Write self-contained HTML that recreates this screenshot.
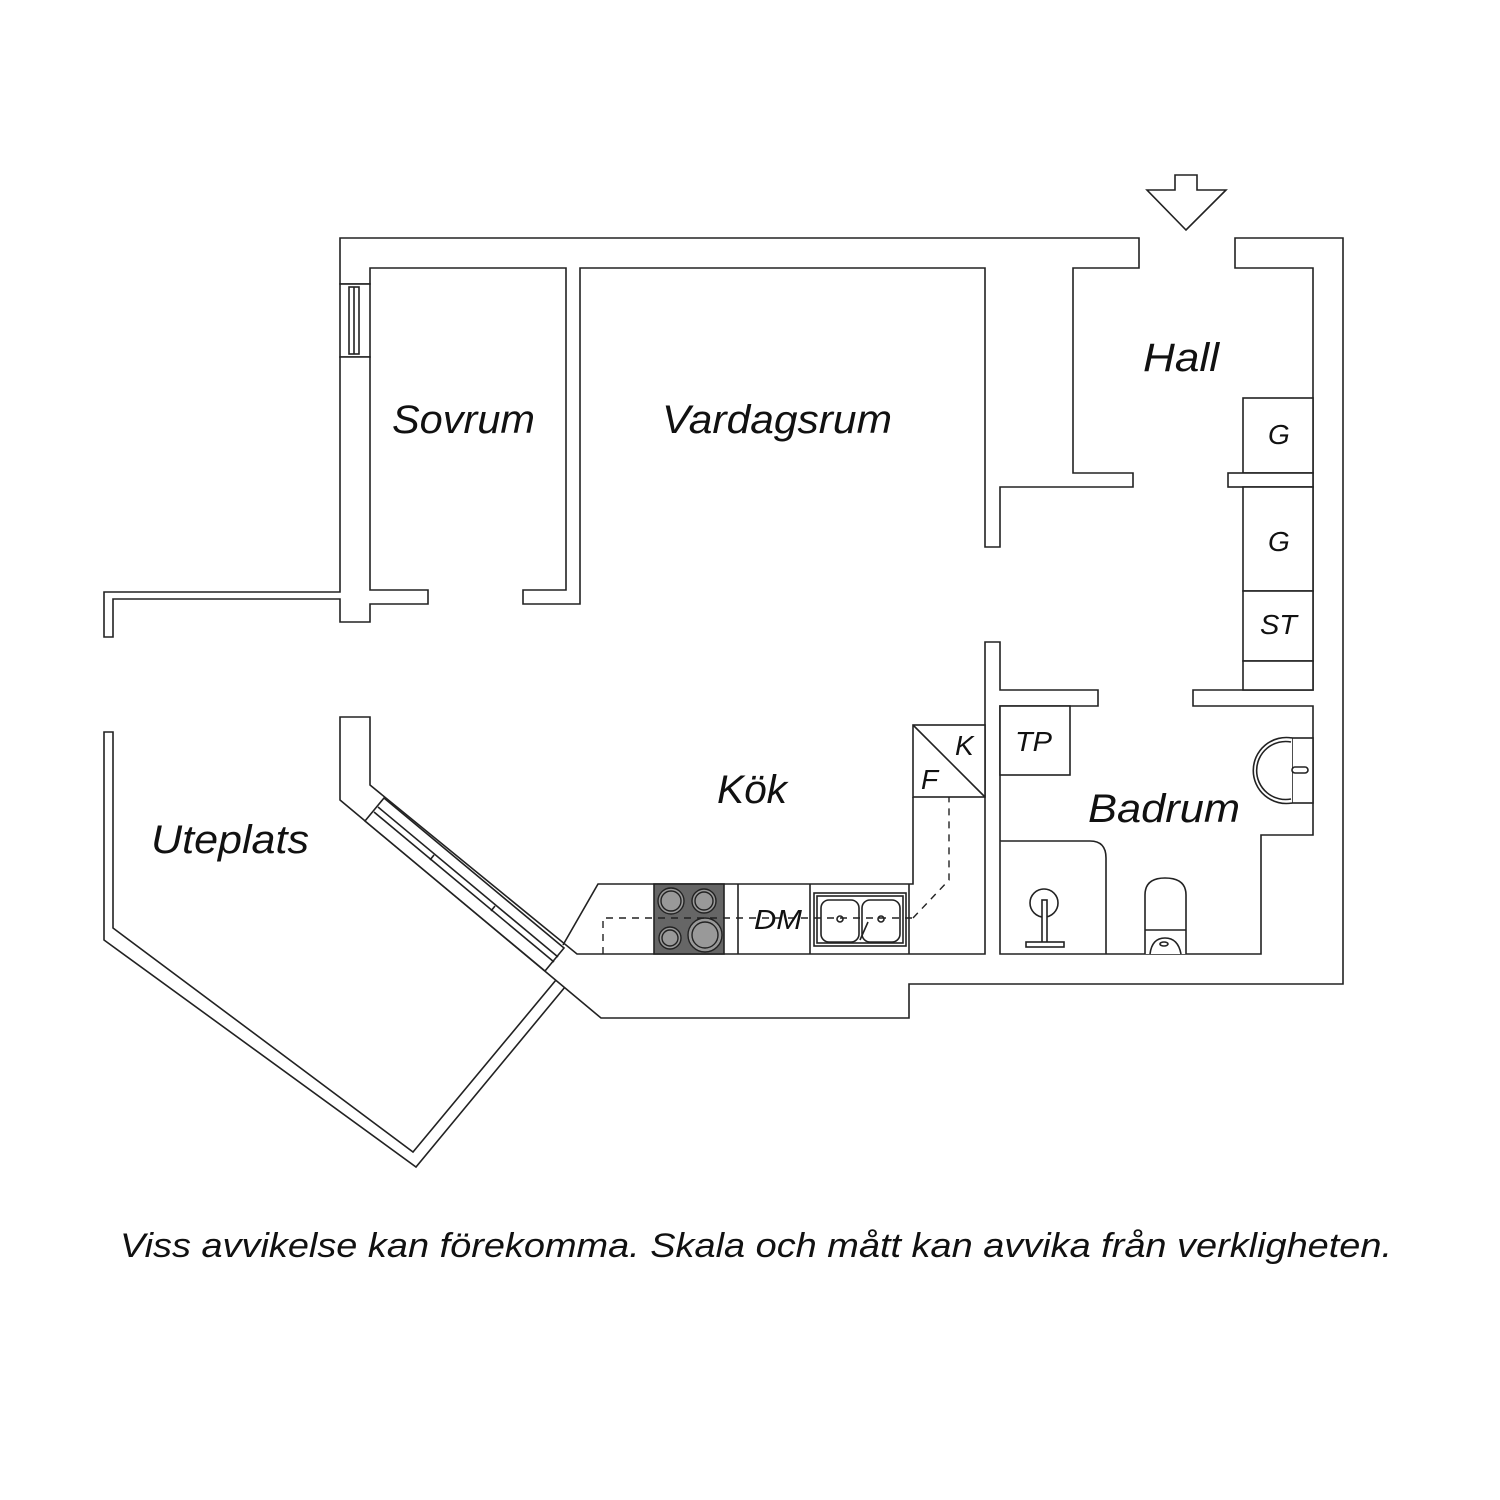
<!DOCTYPE html>
<html><head><meta charset="utf-8"><style>
html,body{margin:0;padding:0;background:#fff;}
svg{display:block;}
text{font-family:"Liberation Sans",sans-serif;font-style:italic;fill:#111;}
</style></head><body>
<svg width="1500" height="1500" viewBox="0 0 1500 1500" xmlns="http://www.w3.org/2000/svg">
<g fill="#fff" stroke="#222" stroke-width="1.6" stroke-linejoin="miter">
<polygon points="340,284 340,238 1139,238 1139,268 1073,268 1073,473 1133,473 1133,487 1000,487 1000,547 985,547 985,268 580,268 580,604 523,604 523,590 566,590 566,268 370,268 370,284"/>
<rect x="340" y="284" width="30" height="73"/>
<rect x="349" y="287" width="10" height="67"/>
<line x1="354" y1="287" x2="354" y2="354"/>
<polygon points="340,357 370,357 370,590 428,590 428,604 370,604 370,622 340,622 340,599 113,599 113,637 104,637 104,592 340,592"/>
<polygon points="104,732 113,732 113,928 413,1152 556,980 565,987 416,1167 104,940"/>
<polygon points="1235,238 1343,238 1343,984 909,984 909,1018 601,1018 340,800 340,717 370,717 370,785 577,954 985,954 985,642 1000,642 1000,690 1098,690 1098,706 1000,706 1000,954 1261,954 1261,835 1313,835 1313,706 1193,706 1193,690 1313,690 1313,268 1235,268"/>
<polygon points="365,821 384,798 564,948 545,971"/>
<line x1="374" y1="812" x2="554" y2="962"/>
<line x1="378" y1="807" x2="558" y2="957"/>
<line x1="430" y1="860" x2="434" y2="855"/>
<line x1="491" y1="911" x2="495" y2="906"/>
<polygon points="1175,175 1197,175 1197,190 1226,190 1186,230 1147,190 1175,190"/>
<rect x="1243" y="398" width="70" height="75"/>
<rect x="1228" y="473" width="85" height="14"/>
<rect x="1243" y="487" width="70" height="104"/>
<rect x="1243" y="591" width="70" height="70"/>
<rect x="1243" y="661" width="70" height="29"/>
<rect x="1000" y="706" width="70" height="69"/>
<path d="M1000,841 H1090 Q1106,841 1106,858 V954"/>
<rect x="1292" y="738" width="21" height="65"/>
<path d="M1292,738 A33,33 0 1 0 1292,803" />
<path d="M1291,742 A29,29 0 1 0 1291,799" />
<rect x="1292" y="767" width="16" height="6" rx="3"/>
<path d="M1145,954 V895 Q1145,878 1165,878 Q1186,878 1186,895 V954"/>
<path d="M1145,930 H1186 M1150,954 Q1152,938 1165,938 Q1178,938 1181,954" fill="none"/>
<ellipse cx="1164" cy="944" rx="4" ry="2"/>
<circle cx="1044" cy="903" r="14"/>
<rect x="1042" y="900" width="5" height="46"/>
<rect x="1026" y="942" width="38" height="5"/>
<rect x="913" y="725" width="72" height="72"/>
<line x1="913" y1="725" x2="985" y2="797"/>
<polyline points="913,797 913,884 598,884 563,945" fill="none"/>
<rect x="654" y="884" width="70" height="70" fill="#666"/>
<line x1="738" y1="884" x2="738" y2="954"/>
<line x1="810" y1="884" x2="810" y2="954"/>
<line x1="909" y1="884" x2="909" y2="954"/>
<rect x="814" y="893" width="92" height="53"/>
<rect x="817" y="896" width="86" height="47"/>
<rect x="821" y="900" width="38" height="42" rx="8"/>
<rect x="862" y="900" width="38" height="42" rx="8"/>
<circle cx="840" cy="919" r="3"/>
<circle cx="881" cy="919" r="3"/>
<line x1="860" y1="940" x2="868" y2="922"/>
</g>
<g fill="#999" stroke="#222" stroke-width="1.4">
<circle cx="671" cy="901" r="13"/><circle cx="671" cy="901" r="10"/>
<circle cx="704" cy="901" r="12"/><circle cx="704" cy="901" r="9"/>
<circle cx="670" cy="938" r="11"/><circle cx="670" cy="938" r="8"/>
<circle cx="705" cy="935" r="17"/><circle cx="705" cy="935" r="13"/>
</g>
<g fill="none" stroke="#222" stroke-width="1.4" stroke-dasharray="7,6">
<polyline points="603,954 603,918 913,918"/>
<path d="M913,918 L949,880 L949,797"/>
</g>
<text x="392" y="433" font-size="40" textLength="143" lengthAdjust="spacingAndGlyphs">Sovrum</text>
<text x="662" y="433" font-size="40" textLength="230" lengthAdjust="spacingAndGlyphs">Vardagsrum</text>
<text x="1143" y="371" font-size="40" textLength="76" lengthAdjust="spacingAndGlyphs">Hall</text>
<text x="717" y="803" font-size="40" textLength="70" lengthAdjust="spacingAndGlyphs">Kök</text>
<text x="151" y="853" font-size="40" textLength="158" lengthAdjust="spacingAndGlyphs">Uteplats</text>
<text x="1088" y="822" font-size="40" textLength="152" lengthAdjust="spacingAndGlyphs">Badrum</text>
<text x="1268" y="444" font-size="28">G</text>
<text x="1268" y="551" font-size="28">G</text>
<text x="1260" y="634" font-size="28" textLength="37" lengthAdjust="spacingAndGlyphs">ST</text>
<text x="1015" y="751" font-size="28" textLength="37" lengthAdjust="spacingAndGlyphs">TP</text>
<text x="955" y="755" font-size="28">K</text>
<text x="921" y="789" font-size="28">F</text>
<text x="754" y="929" font-size="28" textLength="48" lengthAdjust="spacingAndGlyphs">DM</text>
<text x="120" y="1257" font-size="34" textLength="1272" lengthAdjust="spacingAndGlyphs">Viss avvikelse kan förekomma. Skala och mått kan avvika från verkligheten.</text>
</svg>
</body></html>
